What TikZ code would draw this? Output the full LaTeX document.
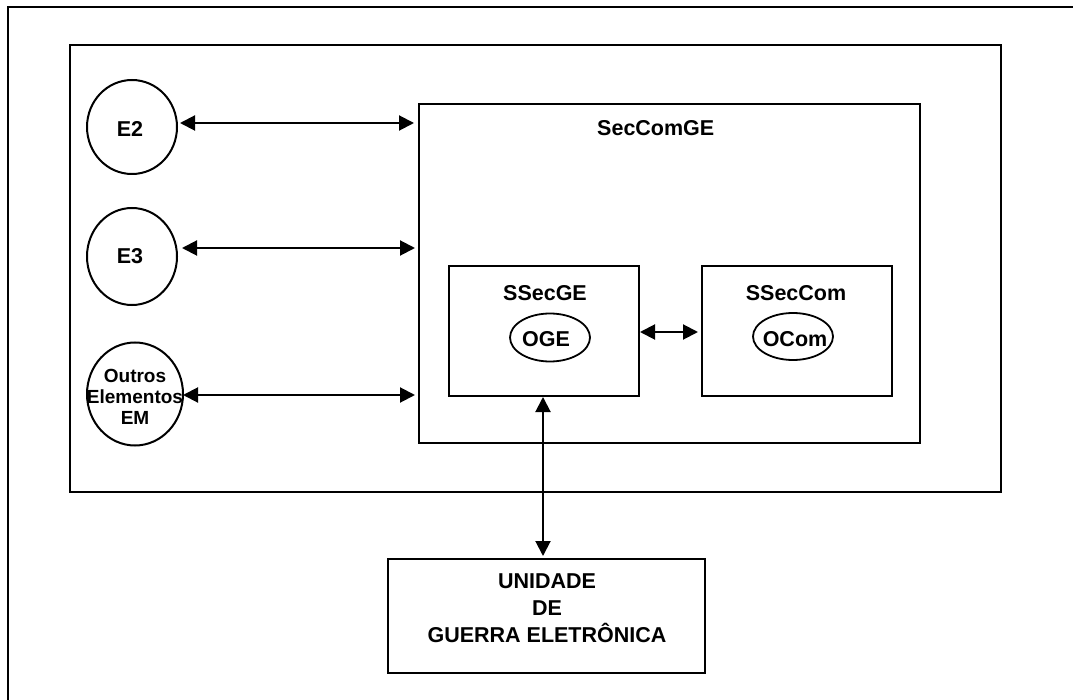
\documentclass[tikz,border=0pt]{standalone}
\usepackage{fontspec}
\setmainfont{Liberation Sans}
\usetikzlibrary{shapes.geometric,arrows.meta}

\tikzset{
  frame/.style={draw, line width=2pt, rectangle, inner sep=0pt},
  entity/.style={draw, line width=2pt, ellipse, inner sep=0pt},
  organ/.style={draw, line width=1.8pt, ellipse, inner sep=0pt},
  txt/.style={inner sep=0pt, align=center, font=\bfseries\fontsize{21.5}{27}\selectfont},
  small/.style={inner sep=0pt, align=center, font=\bfseries\fontsize{19}{21}\selectfont},
  link/.style={line width=2pt, {Triangle[length=15pt,width=15pt]}-{Triangle[length=15pt,width=15pt]}},
}

\begin{document}
\begin{tikzpicture}[x=1pt,y=-1pt]
  \useasboundingbox (0,0) rectangle (1073,700);

  % page frame (open at right and bottom)
  \draw[line width=2pt] (8,700) |- (1073,7);

  % command post area
  \node[frame, minimum width=931, minimum height=447] (post) at (535.5,268.5) {};

  % section box and its subsections
  \node[frame, minimum width=501, minimum height=339] (sec) at (669.5,273.5) {};
  \node[txt, anchor=west] (secl) at (597,128) {SecComGE};

  \node[frame, minimum width=190, minimum height=130] (sge) at (544,331) {};
  \node[txt] (sgel) at (545,293) {SSecGE};
  \node[organ, minimum width=80, minimum height=48] (oge) at (550,337.5) {};
  \node[txt] (ogel) at (546,339) {OGE};

  \node[frame, minimum width=190, minimum height=130] (scom) at (797,331) {};
  \node[txt] (scoml) at (796,293) {SSecCom};
  \node[organ, minimum width=80, minimum height=47] (ocom) at (793,336.5) {};
  \node[txt] (ocoml) at (795,339) {OCom};

  % external elements
  \node[entity, minimum width=90, minimum height=94] (e2) at (132,127) {};
  \node[txt] (e2l) at (130,129) {E2};
  \node[entity, minimum width=90, minimum height=97] (e3) at (132,256.5) {};
  \node[txt] (e3l) at (130,256) {E3};
  \node[entity, minimum width=96, minimum height=103] (outros) at (135,394) {};
  \node[small] (outrosl) at (135,397) {Outros\\Elementos\\EM};

  % electronic warfare unit
  \node[frame, minimum width=317, minimum height=114] (unid) at (546.5,616) {};
  \node[txt] (unidl) at (547,608) {UNIDADE\\DE\\GUERRA ELETRÔNICA};

  % connectors
  \coordinate (a2) at (180,123);
  \coordinate (a3) at (182,248);
  \coordinate (ao) at (183,395);
  \draw[link, shorten >=4pt] (a2) -- (a2 -| sec.west);
  \draw[link, shorten >=3pt] (a3) -- (a3 -| sec.west);
  \draw[link, shorten >=3pt] (ao) -- (ao -| sec.west);
  \draw[link, shorten >=3pt] ([yshift=-1pt]sge.east) -- ([yshift=-1pt]scom.west);
  \coordinate (av) at (543,397);
  \draw[link, shorten >=2pt] (av) -- (av |- unid.north);
\end{tikzpicture}
\end{document}
